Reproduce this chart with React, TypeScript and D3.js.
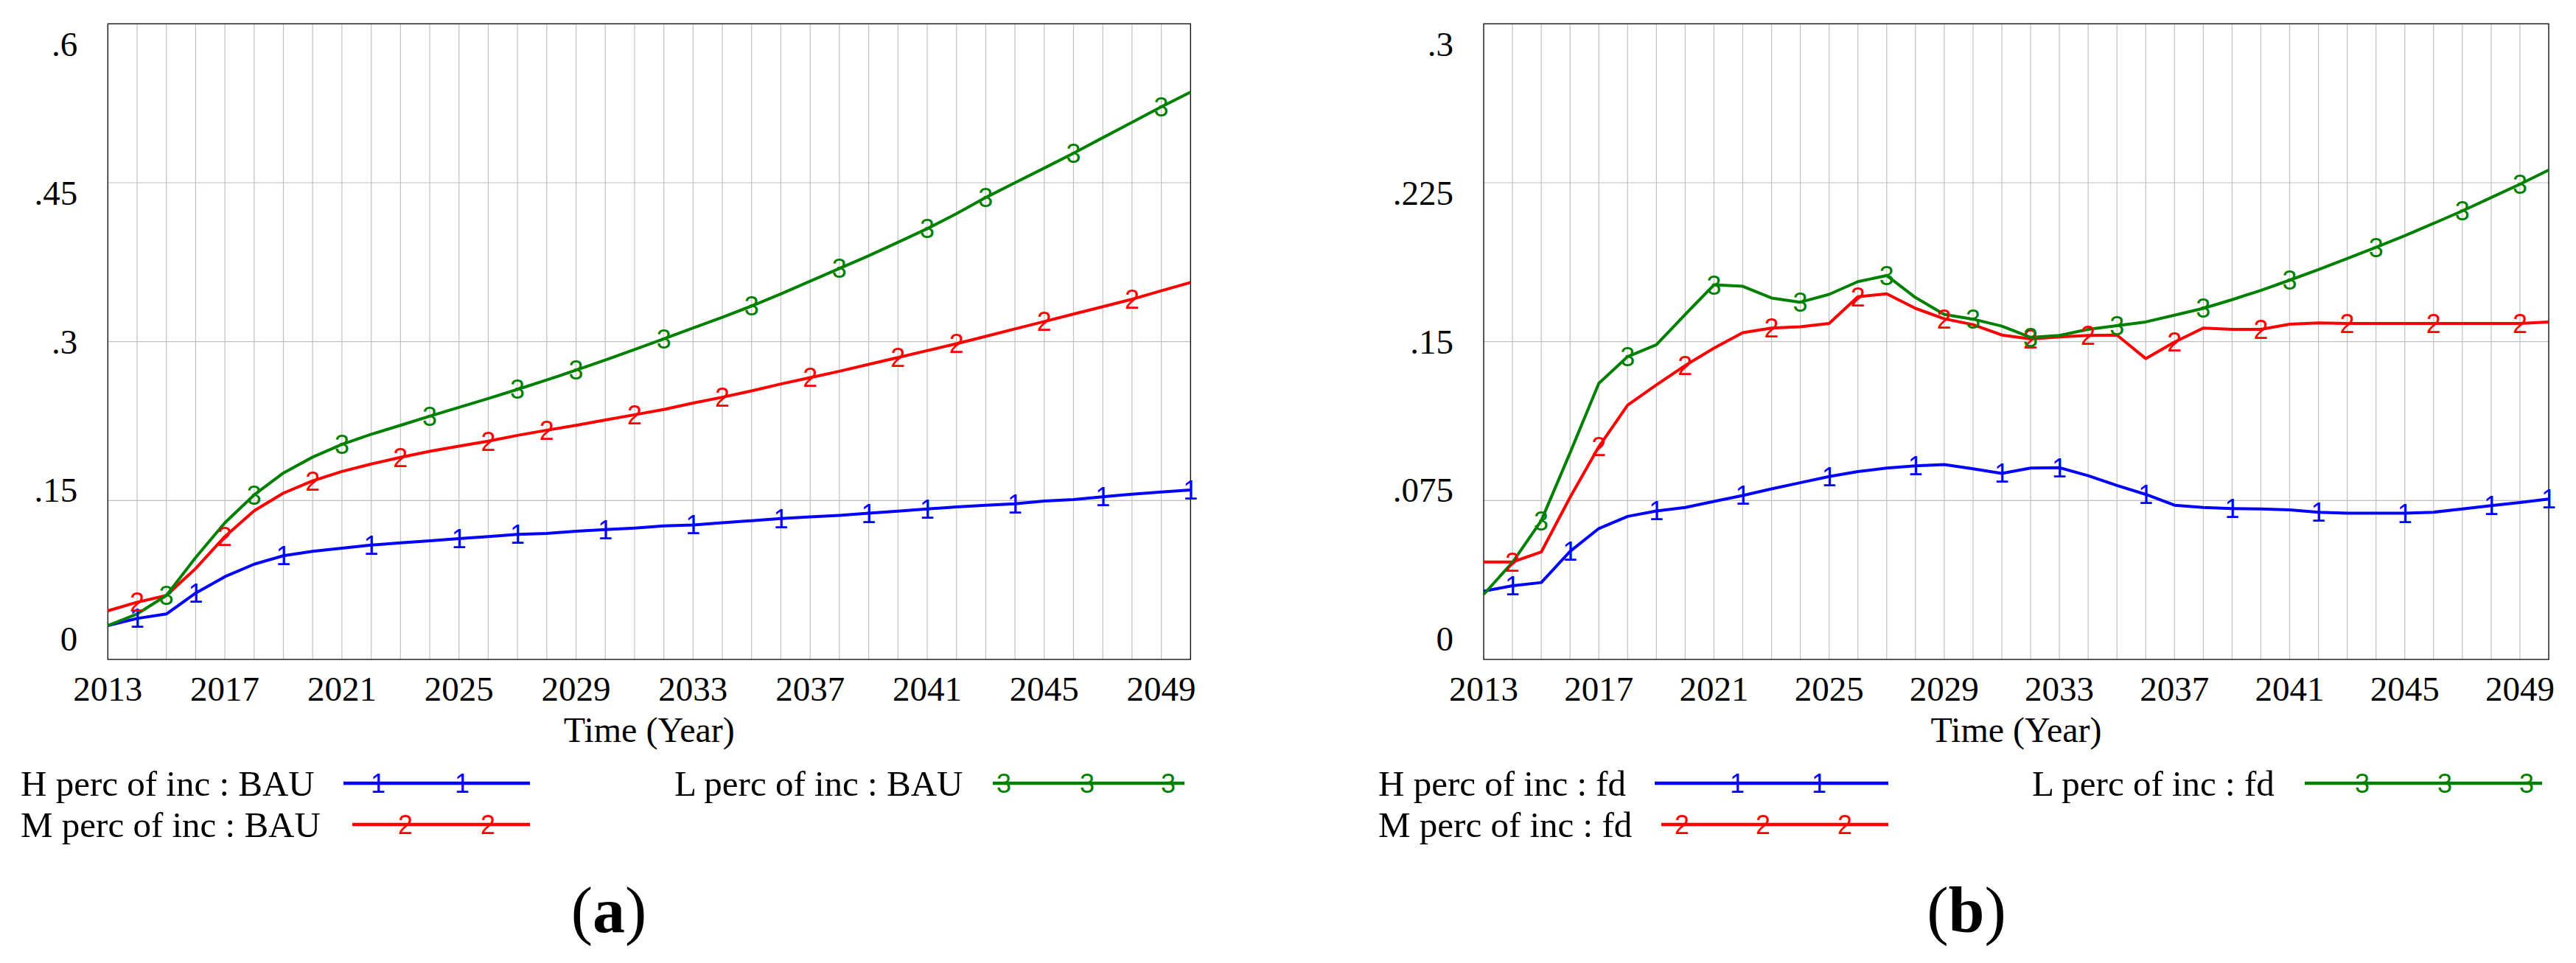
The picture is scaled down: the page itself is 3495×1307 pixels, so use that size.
import React from "react";
import * as d3 from "d3";

const YEARS = [2013, 2014, 2015, 2016, 2017, 2018, 2019, 2020, 2021, 2022, 2023, 2024, 2025, 2026, 2027, 2028, 2029, 2030, 2031, 2032, 2033, 2034, 2035, 2036, 2037, 2038, 2039, 2040, 2041, 2042, 2043, 2044, 2045, 2046, 2047, 2048, 2049, 2050];

// Panel (a) BAU
const H_BAU = [0.032, 0.0387, 0.0429, 0.0626, 0.0781, 0.0899, 0.0979, 0.102, 0.105, 0.108, 0.110, 0.112, 0.114, 0.116, 0.118, 0.119, 0.121, 0.1226, 0.124, 0.126, 0.127, 0.129, 0.131, 0.133, 0.1345, 0.136, 0.138, 0.140, 0.142, 0.144, 0.1456, 0.147, 0.1496, 0.151, 0.1535, 0.156, 0.158, 0.160];
const M_BAU = [0.0459, 0.054, 0.0603, 0.0858, 0.116, 0.1403, 0.157, 0.1686, 0.1774, 0.1845, 0.1907, 0.1965, 0.2013, 0.206, 0.2115, 0.2164, 0.221, 0.226, 0.231, 0.236, 0.242, 0.2475, 0.2535, 0.26, 0.266, 0.272, 0.2785, 0.285, 0.2915, 0.298, 0.305, 0.312, 0.319, 0.326, 0.333, 0.340, 0.348, 0.3558];
const L_BAU = [0.032, 0.0429, 0.0603, 0.0962, 0.129, 0.1553, 0.176, 0.191, 0.203, 0.2125, 0.221, 0.2296, 0.238, 0.2463, 0.2549, 0.2638, 0.273, 0.2826, 0.2925, 0.3027, 0.3128, 0.323, 0.3336, 0.345, 0.357, 0.369, 0.381, 0.3937, 0.4066, 0.4208, 0.436, 0.450, 0.4638, 0.4778, 0.4925, 0.507, 0.5216, 0.5355];

// Panel (b) fd
const H_FD = [0.0322, 0.0348, 0.0363, 0.051, 0.0618, 0.0675, 0.0701, 0.0717, 0.0746, 0.0774, 0.0805, 0.0834, 0.0863, 0.0887, 0.0903, 0.0914, 0.092, 0.090, 0.0878, 0.0903, 0.0905, 0.0867, 0.0821, 0.0779, 0.0728, 0.0717, 0.0712, 0.071, 0.0706, 0.0695, 0.069, 0.069, 0.069, 0.0695, 0.071, 0.0726, 0.0741, 0.0757];
const M_FD = [0.046, 0.046, 0.0507, 0.0765, 0.1004, 0.120, 0.1296, 0.1387, 0.1469, 0.1542, 0.1564, 0.157, 0.1586, 0.1712, 0.1726, 0.1657, 0.1608, 0.158, 0.1531, 0.1513, 0.1522, 0.1529, 0.1531, 0.142, 0.1498, 0.1564, 0.1558, 0.1558, 0.1582, 0.1588, 0.1586, 0.1586, 0.1586, 0.1586, 0.1586, 0.1586, 0.1586, 0.1593];
const L_FD = [0.0307, 0.0458, 0.0655, 0.0975, 0.1303, 0.1429, 0.1485, 0.1628, 0.1768, 0.1761, 0.1706, 0.1686, 0.1723, 0.1783, 0.1812, 0.1708, 0.1628, 0.1606, 0.1573, 0.152, 0.1529, 0.1558, 0.1575, 0.1593, 0.1625, 0.1657, 0.1698, 0.1742, 0.179, 0.184, 0.1892, 0.1945, 0.2, 0.2058, 0.2117, 0.218, 0.2243, 0.231];

// Years at which the series number markers sit
const MK_H_BAU = [2014, 2016, 2019, 2022, 2025, 2027, 2030, 2033, 2036, 2039, 2041, 2044, 2047, 2050];
const MK_M_BAU = [2014, 2017, 2020, 2023, 2026, 2028, 2031, 2034, 2037, 2040, 2042, 2045, 2048];
const MK_L_BAU = [2015, 2018, 2021, 2024, 2027, 2029, 2032, 2035, 2038, 2041, 2043, 2046, 2049];
const MK_H_FD = [2014, 2016, 2019, 2022, 2025, 2028, 2031, 2033, 2036, 2039, 2042, 2045, 2048, 2050];
const MK_M_FD = [2014, 2017, 2020, 2023, 2026, 2029, 2032, 2034, 2037, 2040, 2043, 2046, 2049];
const MK_L_FD = [2015, 2018, 2021, 2024, 2027, 2030, 2032, 2035, 2038, 2041, 2044, 2047, 2049];

const X_TICKS = [2013, 2017, 2021, 2025, 2029, 2033, 2037, 2041, 2045, 2049];
const Y_TICKS_A = [0, 0.15, 0.3, 0.45, 0.6];
const Y_LABELS_A = ["0", ".15", ".3", ".45", ".6"];
const Y_TICKS_B = [0, 0.075, 0.15, 0.225, 0.3];
const Y_LABELS_B = ["0", ".075", ".15", ".225", ".3"];

const NAMES_A = ["H perc of inc : BAU", "M perc of inc : BAU", "L perc of inc : BAU"];
const NAMES_B = ["H perc of inc : fd", "M perc of inc : fd", "L perc of inc : fd"];
const MARKS = ["1", "2", "3"];
const COLORS = ["#0000ff", "#ff0000", "#008000"];
const X_TITLE = "Time (Year)";

const SERIF = "'Liberation Serif', 'Times New Roman', serif";
const SANS = "'Liberation Sans', Arial, sans-serif";

type LegendItem = { textX: number; baseY: number; x1: number; x2: number; lineY: number; markXs: number[] };

type PanelProps = {
  left: number; right: number; top: number; bottom: number;
  yMax: number; yTicks: number[]; yLabels: string[];
  series: number[][]; markers: number[][]; names: string[];
  legend: LegendItem[]; caption: string; captionX: number;
};

function Panel(p: PanelProps) {
  const x = d3.scaleLinear().domain([2013, 2050]).range([p.left, p.right]);
  const y = d3.scaleLinear().domain([0, p.yMax]).range([p.bottom, p.top]);
  // Vensim-style label placement (labels spread slightly inside the gridlines)
  const yLab = d3.scaleLinear().domain([0, p.yMax]).range([p.bottom - 12, p.top + 44]);
  const line = d3.line<number>().x((_, i) => x(YEARS[i])).y((d) => y(d));
  const midX = (p.left + p.right) / 2;

  return (
    <g>
      {YEARS.slice(1, -1).map((yr) => (
        <line key={"vg" + yr} x1={x(yr)} x2={x(yr)} y1={p.top} y2={p.bottom} stroke="#c0c0c0" strokeWidth={1.2} />
      ))}
      {p.yTicks.slice(1, -1).map((t) => (
        <line key={"hg" + t} x1={p.left} x2={p.right} y1={y(t)} y2={y(t)} stroke="#c0c0c0" strokeWidth={1.2} />
      ))}
      <rect x={p.left} y={p.top} width={p.right - p.left} height={p.bottom - p.top} fill="none" stroke="#000" strokeWidth={1.3} />
      {p.series.map((s, i) => (
        <path key={"s" + i} d={line(s) || ""} fill="none" stroke={COLORS[i]} strokeWidth={4} strokeLinejoin="round" />
      ))}
      {p.series.map((s, i) =>
        p.markers[i].map((yr) => (
          <text key={"m" + i + "-" + yr} x={x(yr)} y={y(s[YEARS.indexOf(yr)])} dy="0.36em" textAnchor="middle"
            fontFamily={SANS} fontSize={36} fill={COLORS[i]}>{MARKS[i]}</text>
        ))
      )}
      {p.yTicks.map((t, i) => (
        <text key={"yl" + t} x={p.left - 41} y={yLab(t)} textAnchor="end" fontFamily={SERIF} fontSize={47} fill="#000">{p.yLabels[i]}</text>
      ))}
      {X_TICKS.map((t) => (
        <text key={"xl" + t} x={x(t)} y={951} textAnchor="middle" fontFamily={SERIF} fontSize={47} fill="#000">{t}</text>
      ))}
      <text x={midX} y={1007} textAnchor="middle" fontFamily={SERIF} fontSize={48} fill="#000">{X_TITLE}</text>
      {p.legend.map((l, i) => (
        <g key={"lg" + i}>
          <text x={l.textX} y={l.baseY} fontFamily={SERIF} fontSize={49} fill="#000">{p.names[i]}</text>
          <line x1={l.x1} x2={l.x2} y1={l.lineY} y2={l.lineY} stroke={COLORS[i]} strokeWidth={4.5} />
          {l.markXs.map((mx, j) => (
            <text key={j} x={mx} y={l.lineY} dy="0.36em" textAnchor="middle" fontFamily={SANS} fontSize={36} fill={COLORS[i]}>{MARKS[i]}</text>
          ))}
        </g>
      ))}
      <text x={p.captionX} y={1265} textAnchor="middle" fontFamily={SERIF} fontSize={88} fill="#000">
        <tspan>(</tspan><tspan fontWeight="bold">{p.caption}</tspan><tspan>)</tspan>
      </text>
    </g>
  );
}

export default function App() {
  const legendA: LegendItem[] = [
    { textX: 28, baseY: 1080, x1: 466, x2: 719, lineY: 1063, markXs: [513, 627] },
    { textX: 28, baseY: 1136, x1: 478, x2: 719, lineY: 1119, markXs: [550, 662] },
    { textX: 915, baseY: 1080, x1: 1347, x2: 1607, lineY: 1063, markXs: [1362, 1475, 1585] },
  ];
  const legendB: LegendItem[] = [
    { textX: 1870, baseY: 1080, x1: 2245, x2: 2562, lineY: 1063, markXs: [2357, 2468] },
    { textX: 1870, baseY: 1136, x1: 2254, x2: 2562, lineY: 1119, markXs: [2282, 2392, 2503] },
    { textX: 2757, baseY: 1080, x1: 3127, x2: 3449, lineY: 1063, markXs: [3205, 3317, 3428] },
  ];
  return (
    <svg width={3495} height={1307} style={{ position: "absolute", left: 0, top: 0, background: "#fff" }}>
      <rect x={0} y={0} width={3495} height={1307} fill="#fff" />
      <Panel left={146.3} right={1615.3} top={32.3} bottom={895} yMax={0.6} yTicks={Y_TICKS_A} yLabels={Y_LABELS_A}
        series={[H_BAU, M_BAU, L_BAU]} markers={[MK_H_BAU, MK_M_BAU, MK_L_BAU]} names={NAMES_A}
        legend={legendA} caption="a" captionX={826} />
      <Panel left={2013} right={3458} top={32.3} bottom={895} yMax={0.3} yTicks={Y_TICKS_B} yLabels={Y_LABELS_B}
        series={[H_FD, M_FD, L_FD]} markers={[MK_H_FD, MK_M_FD, MK_L_FD]} names={NAMES_B}
        legend={legendB} caption="b" captionX={2668} />
    </svg>
  );
}
